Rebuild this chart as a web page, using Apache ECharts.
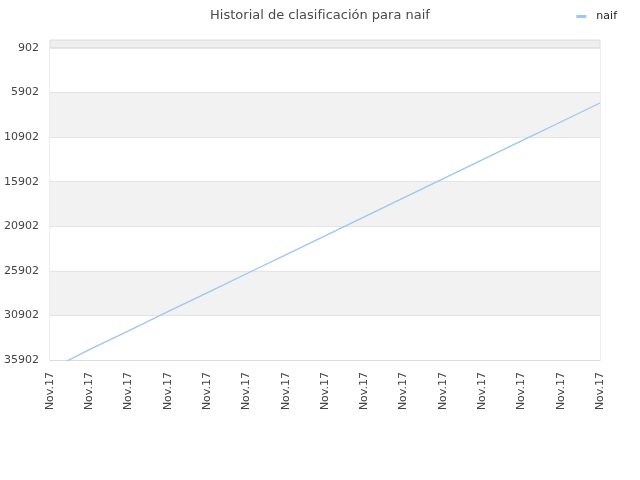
<!DOCTYPE html>
<html lang="es">
<head>
    <meta charset="UTF-8">
    <title>Historial de clasificación para naif</title>
    <style>
        * { margin: 0; padding: 0; box-sizing: border-box; }
        body { background: #fff; }
        #chart { width: 640px; height: 480px; }
    </style>
</head>
<body>
    <div id="chart"></div>

    <script src="https://cdn.jsdelivr.net/npm/echarts@6/dist/echarts.min.js"></script>
    <script>
        // Datos
        const categories = ['Nov.17', 'Nov.17', 'Nov.17', 'Nov.17', 'Nov.17', 'Nov.17', 'Nov.17', 'Nov.17',
                            'Nov.17', 'Nov.17', 'Nov.17', 'Nov.17', 'Nov.17', 'Nov.17', 'Nov.17'];
        const rankNaif = [36990, 34740, 32630, 30480, 28370, 26230, 24110, 21970,
                          19850, 17720, 15590, 13450, 11330, 9200, 7070];
        const rankTicks = [902, 35902];   // min / max del eje
        const rankStep = 5000;

        const chart = echarts.init(document.getElementById('chart'));

        const option = {
            animation: false,
            title: {
                text: 'Historial de clasificación para naif',
                left: 'center',
                top: 4,
                textStyle: { fontFamily: 'DejaVu Sans', fontSize: 13, fontWeight: 'normal', color: '#4a4a4a' }
            },
            legend: {
                data: ['naif'],
                right: 18,
                top: 6,
                itemWidth: 10,
                itemHeight: 3,
                icon: 'rect',
                textStyle: { fontFamily: 'DejaVu Sans', fontSize: 11, color: '#222', padding: [0, 0, 0, 5] }
            },
            grid: {
                left: 50,
                right: 40,
                top: 48,
                bottom: 120,
                containLabel: false,
                outerBoundsMode: 'none',
                show: true,
                borderColor: '#dcdcdc',
                borderWidth: 1,
                backgroundColor: 'transparent'
            },
            // franja gris sobre el 902
            graphic: [{
                type: 'rect',
                shape: { x: 50, y: 40, width: 550, height: 8 },
                style: { fill: '#efefef', stroke: '#dcdcdc', lineWidth: 1 },
                z: -1
            }],
            xAxis: {
                type: 'category',
                data: categories,
                boundaryGap: false,
                axisLine: { show: true, lineStyle: { color: '#dcdcdc' } },
                axisTick: { show: false },
                axisLabel: {
                    interval: 0,
                    rotate: 90,
                    margin: 12,
                    fontFamily: 'DejaVu Sans',
                    fontSize: 11,
                    color: '#444'
                },
                splitLine: { show: false }
            },
            yAxis: {
                type: 'value',
                inverse: true,
                min: rankTicks[0],
                max: rankTicks[1],
                interval: rankStep,
                axisLine: { show: false },
                axisTick: { show: false },
                axisLabel: {
                    margin: 11,
                    fontFamily: 'DejaVu Sans',
                    fontSize: 11,
                    color: '#444',
                    formatter: v => String(v)
                },
                splitLine: { show: true, lineStyle: { color: '#e4e4e4' } },
                splitArea: { show: true, areaStyle: { color: ['#ffffff', '#f2f2f2'] } }
            },
            series: [{
                name: 'naif',
                type: 'line',
                data: rankNaif,
                showSymbol: false,
                symbol: 'none',
                clip: true,
                lineStyle: { color: '#9cc6f3', width: 1.3 },
                itemStyle: { color: '#9cc6f3' }
            }]
        };

        chart.setOption(option);
    </script>
</body>
</html>
